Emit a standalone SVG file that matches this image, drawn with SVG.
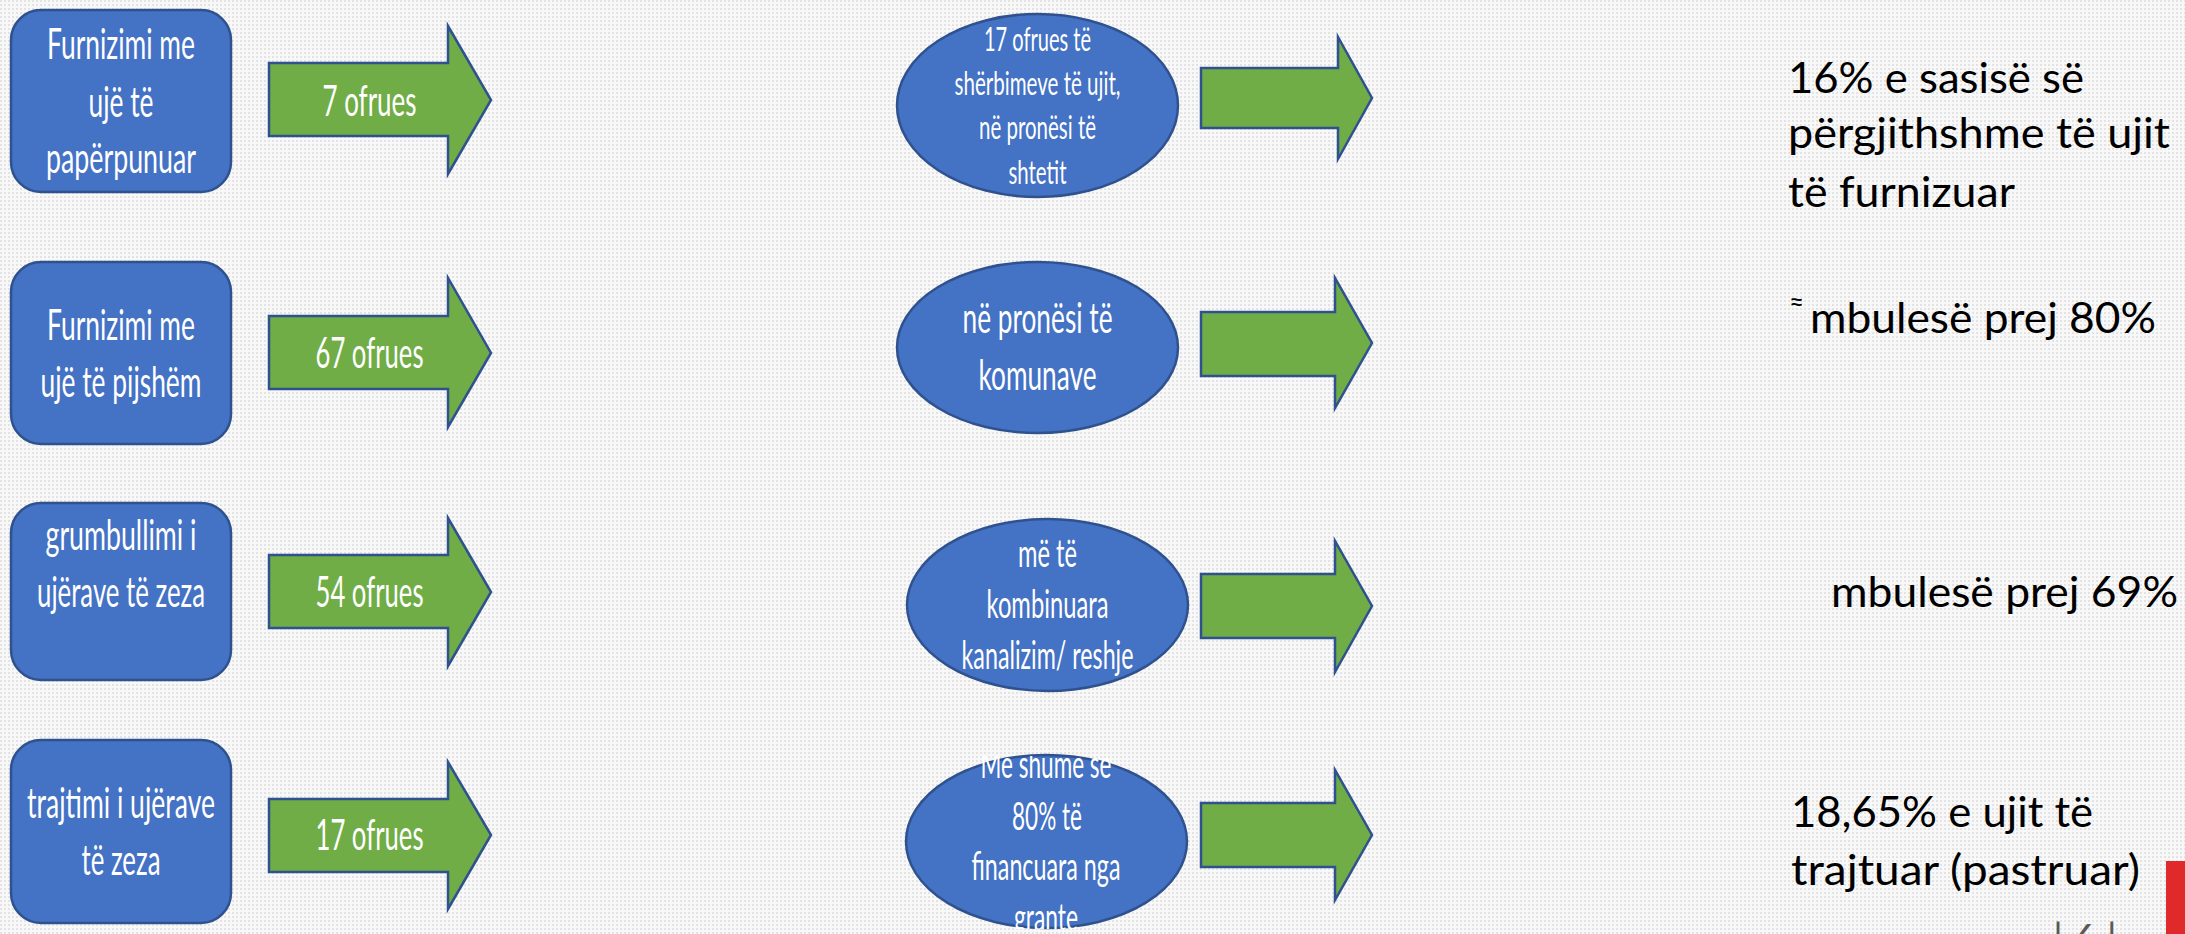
<svg xmlns="http://www.w3.org/2000/svg" width="2185" height="934" viewBox="0 0 2185 934">
<style>
.box{fill:#4472C4;stroke:#2F528F;stroke-width:2.5}
.arr{fill:#70AD47;stroke:#2F528F;stroke-width:2.5}
.w{fill:#FFFFFF;font-family:Lato,"Liberation Sans",sans-serif;text-anchor:middle}
.f42{font-size:42px}
.f32{font-size:32px}
.f38{font-size:38px}
.k{fill:#000000;font-family:Lato,"Liberation Sans",sans-serif;font-size:42px}
</style>
<defs>
<pattern id="bg" width="4" height="4" patternUnits="userSpaceOnUse">
<rect width="4" height="4" fill="#F8F8F8"/>
<rect width="2" height="2" fill="#E3E3E3"/>
</pattern>
<clipPath id="clip4"><rect x="880" y="756" width="340" height="173"/></clipPath>
</defs>
<rect width="2185" height="934" fill="url(#bg)"/>

<g id="box1">
<rect class="box" x="11" y="10" width="220" height="182" rx="30"/>
<text class="w f42"><tspan x="121" y="59" textLength="148" lengthAdjust="spacingAndGlyphs">Furnizimi me</tspan><tspan x="121" y="117" textLength="65" lengthAdjust="spacingAndGlyphs">ujë të</tspan><tspan x="121" y="173" textLength="150" lengthAdjust="spacingAndGlyphs">papërpunuar</tspan></text>
</g>
<g id="box2">
<rect class="box" x="11" y="262" width="220" height="182" rx="30"/>
<text class="w f42"><tspan x="121" y="340" textLength="148" lengthAdjust="spacingAndGlyphs">Furnizimi me</tspan><tspan x="121" y="397" textLength="161" lengthAdjust="spacingAndGlyphs">ujë të pijshëm</tspan></text>
</g>
<g id="box3">
<rect class="box" x="11" y="503" width="220" height="177" rx="30"/>
<text class="w f42"><tspan x="121" y="550" textLength="151" lengthAdjust="spacingAndGlyphs">grumbullimi i</tspan><tspan x="121" y="607" textLength="168" lengthAdjust="spacingAndGlyphs">ujërave të zeza</tspan></text>
</g>
<g id="box4">
<rect class="box" x="11" y="740" width="220" height="183" rx="30"/>
<text class="w f42"><tspan x="121" y="818" textLength="188" lengthAdjust="spacingAndGlyphs">trajtimi i ujërave</tspan><tspan x="121" y="875" textLength="79" lengthAdjust="spacingAndGlyphs">të zeza</tspan></text>
</g>

<g id="ell1">
<ellipse class="box" cx="1037.5" cy="105.5" rx="140.5" ry="91.5"/>
<text class="w f32"><tspan x="1037.5" y="51" textLength="107" lengthAdjust="spacingAndGlyphs">17 ofrues të</tspan><tspan x="1037.5" y="95" textLength="166" lengthAdjust="spacingAndGlyphs">shërbimeve të ujit,</tspan><tspan x="1037.5" y="139" textLength="117" lengthAdjust="spacingAndGlyphs">në pronësi të</tspan><tspan x="1037.5" y="184" textLength="58" lengthAdjust="spacingAndGlyphs">shtetit</tspan></text>
</g>
<g id="ell2">
<ellipse class="box" cx="1037.5" cy="347.5" rx="140.5" ry="85.5"/>
<text class="w f42"><tspan x="1037.5" y="333" textLength="150" lengthAdjust="spacingAndGlyphs">në pronësi të</tspan><tspan x="1037.5" y="390" textLength="118" lengthAdjust="spacingAndGlyphs">komunave</tspan></text>
</g>
<g id="ell3">
<ellipse class="box" cx="1047.5" cy="605" rx="140.5" ry="86"/>
<text class="w f38"><tspan x="1047.5" y="567" textLength="59" lengthAdjust="spacingAndGlyphs">më të</tspan><tspan x="1047.5" y="618" textLength="122" lengthAdjust="spacingAndGlyphs">kombinuara</tspan><tspan x="1047.5" y="669" textLength="172" lengthAdjust="spacingAndGlyphs">kanalizim/ reshje</tspan></text>
</g>
<g id="ell4">
<ellipse class="box" cx="1046.5" cy="841.5" rx="140.5" ry="86.5"/>
<text class="w f38" clip-path="url(#clip4)"><tspan x="1046" y="778" textLength="131" lengthAdjust="spacingAndGlyphs">Më shumë se</tspan><tspan x="1047" y="830" textLength="70" lengthAdjust="spacingAndGlyphs">80% të</tspan><tspan x="1046" y="880" textLength="149" lengthAdjust="spacingAndGlyphs">financuara nga</tspan><tspan x="1046" y="931" textLength="64" lengthAdjust="spacingAndGlyphs">grante</tspan></text>
</g>

<g id="connectors">
<g id="arrow1"><path class="arr" d="M269,63 H448 V26 L491,100 L448,174 V136 H269 Z"/><text class="w f42" x="369.5" y="116" textLength="94" lengthAdjust="spacingAndGlyphs">7 ofrues</text></g>
<g id="arrow2"><path class="arr" d="M269,316 H448 V278 L491,353 L448,427 V389 H269 Z"/><text class="w f42" x="369.5" y="368" textLength="108" lengthAdjust="spacingAndGlyphs">67 ofrues</text></g>
<g id="arrow3"><path class="arr" d="M269,555 H448 V518 L491,592 L448,666 V628 H269 Z"/><text class="w f42" x="369.5" y="607" textLength="108" lengthAdjust="spacingAndGlyphs">54 ofrues</text></g>
<g id="arrow4"><path class="arr" d="M269,799 H448 V762 L491,835 L448,909 V872 H269 Z"/><text class="w f42" x="369.5" y="850" textLength="108" lengthAdjust="spacingAndGlyphs">17 ofrues</text></g>
<g id="arrow5"><path class="arr" d="M1201,68 H1338 V37 L1372,98 L1338,159 V128 H1201 Z"/></g>
<g id="arrow6"><path class="arr" d="M1201,312 H1335 V278 L1372,343 L1335,408 V376 H1201 Z"/></g>
<g id="arrow7"><path class="arr" d="M1201,574 H1335 V541 L1372,606 L1335,672 V638 H1201 Z"/></g>
<g id="arrow8"><path class="arr" d="M1201,803 H1335 V770 L1372,835 L1335,900 V867 H1201 Z"/></g>
</g>

<g id="res1">
<text class="k"><tspan x="1788" y="93" textLength="296" lengthAdjust="spacingAndGlyphs">16% e sasisë së</tspan><tspan x="1788" y="148" textLength="382" lengthAdjust="spacingAndGlyphs">përgjithshme të ujit</tspan><tspan x="1788" y="207" textLength="227" lengthAdjust="spacingAndGlyphs">të furnizuar</tspan></text>
</g>
<g id="res2">
<text class="k"><tspan x="1789" y="311" font-size="26">≈</tspan><tspan x="1810" y="333" textLength="346" lengthAdjust="spacingAndGlyphs">mbulesë prej 80%</tspan></text>
</g>
<g id="res3">
<text class="k" x="1831" y="607" textLength="347" lengthAdjust="spacingAndGlyphs">mbulesë prej 69%</text>
</g>
<g id="res4">
<text class="k"><tspan x="1791" y="827" textLength="302" lengthAdjust="spacingAndGlyphs">18,65% e ujit të</tspan><tspan x="1791" y="885" textLength="349" lengthAdjust="spacingAndGlyphs">trajtuar (pastruar)</tspan></text>
</g>

<rect x="2166" y="861" width="19" height="73" fill="#E0292B"/>
<text x="2053" y="953" font-family="Lato,'Liberation Sans',sans-serif" font-size="40" fill="#595959">| 6 |</text>
</svg>
